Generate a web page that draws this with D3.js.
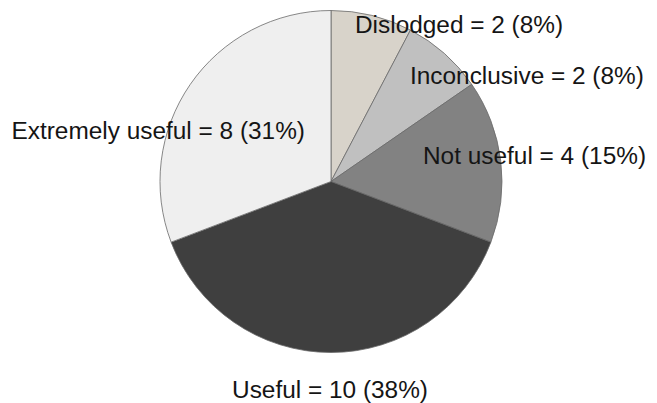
<!DOCTYPE html>
<html><head><meta charset="utf-8">
<script src="https://cdn.jsdelivr.net/npm/d3@7"></script>
<style>html,body{margin:0;padding:0;background:#fff;}svg{display:block;}</style>
</head><body><svg id="c" width="657" height="403"></svg>
<script>
const categories = ["Dislodged", "Inconclusive", "Not useful", "Useful", "Extremely useful"];
const counts = [2, 2, 4, 10, 8];
const percents = [8, 8, 15, 38, 31];
const colors = ["#d8d3ca", "#c0c0c0", "#828282", "#3f3f3f", "#efefef"];

// label layout (relative to pie centre): dx, dy, anchor
const labelLayout = [
  {dx: 24, dy: -149, anchor: "start"},
  {dx: 79, dy: -98, anchor: "start"},
  {dx: 92, dy: -18, anchor: "start"},
  {dx: -1, dy: 216, anchor: "middle"},
  {dx: -26, dy: -43, anchor: "end"}
];

const cx = 331, cy = 181.5, r = 171;
const svg = d3.select("#c");
const g = svg.append("g").attr("transform", `translate(${cx},${cy})`);
const pie = d3.pie().sort(null).value(d => d)(counts);
const arc = d3.arc().innerRadius(0).outerRadius(r);
g.selectAll("path").data(pie).join("path")
  .attr("d", arc)
  .attr("fill", (d, i) => colors[i])
  .attr("stroke", "#6a6a6a")
  .attr("stroke-width", 0.8);

g.selectAll("text").data(pie).join("text")
  .attr("x", (d, i) => labelLayout[i].dx)
  .attr("y", (d, i) => labelLayout[i].dy)
  .attr("text-anchor", (d, i) => labelLayout[i].anchor)
  .attr("font-family", "'Liberation Sans', Arial, sans-serif")
  .attr("font-size", 24.4)
  .attr("fill", "#151515")
  .text((d, i) => `${categories[i]} = ${counts[i]} (${percents[i]}%)`);
</script></body></html>
